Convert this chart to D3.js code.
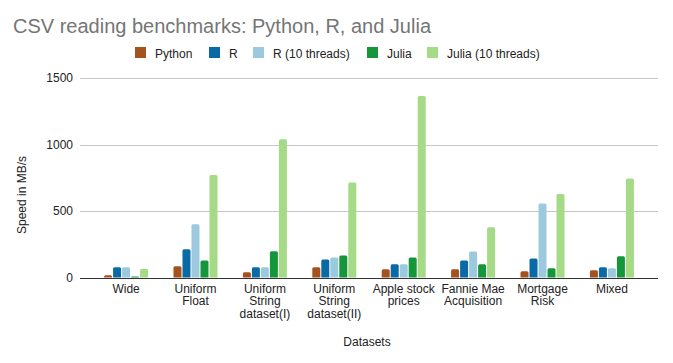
<!DOCTYPE html>
<html>
<head>
<meta charset="utf-8">
<script src="https://cdn.jsdelivr.net/npm/d3@7"></script>
<style>
  body { margin: 0; background: #fff; }
  svg { font-family: Arial, "Liberation Sans", sans-serif; }
</style>
</head>
<body>
<svg id="chart" width="673" height="363"></svg>
<script>
const categories = [
  ['Wide'],
  ['Uniform', 'Float'],
  ['Uniform', 'String', 'dataset(I)'],
  ['Uniform', 'String', 'dataset(II)'],
  ['Apple stock', 'prices'],
  ['Fannie Mae', 'Acquisition'],
  ['Mortgage', 'Risk'],
  ['Mixed']
];
const seriesNames = ['Python', 'R', 'R (10 threads)', 'Julia', 'Julia (10 threads)'];
const seriesColors = ['#a4531f', '#0a6aa6', '#9dc9df', '#15963a', '#a5da86'];
const python = [17, 85, 40, 78, 62, 62, 47, 55];
const rSingle = [78, 213, 78, 135, 100, 128, 143, 78];
const rThreads = [78, 400, 78, 150, 100, 195, 556, 70];
const julia = [8, 128, 198, 165, 150, 100, 70, 160];
const juliaThreads = [63, 770, 1040, 715, 1365, 378, 627, 745];
const yTicks = [0, 500, 1000, 1500];

const series = [python, rSingle, rThreads, julia, juliaThreads];
const svg = d3.select('#chart');
const m = { left: 80, right: 15, top: 78, bottom: 86 };
const W = 673, H = 363;

const x = d3.scaleBand().domain(d3.range(categories.length)).range([m.left, W - m.right]).paddingInner(0.366).paddingOuter(0.347);
const xs = d3.scaleBand().domain(d3.range(series.length)).range([0, x.bandwidth()]).paddingInner(0.11);
const y = d3.scaleLinear().domain([0, 1500]).range([H - m.bottom + 0.5, m.top]);

// title
svg.append('text').attr('x', 13).attr('y', 33).attr('font-size', 20).attr('fill', '#757575')
  .text('CSV reading benchmarks: Python, R, and Julia');

// legend
const legendX = [135, 209, 253, 367, 427];
seriesNames.forEach((name, i) => {
  const g = svg.append('g').attr('transform', `translate(${legendX[i]},47)`);
  g.append('rect').attr('width', 11).attr('height', 11).attr('fill', seriesColors[i]);
  g.append('text').attr('x', 20).attr('y', 10.5).attr('font-size', 12).attr('fill', '#222').text(name);
});

// grid
svg.append('g').selectAll('line').data(yTicks.filter(t => t > 0)).join('line')
  .attr('x1', m.left).attr('x2', W - m.right)
  .attr('y1', d => Math.round(y(d)) + 0.5).attr('y2', d => Math.round(y(d)) + 0.5)
  .attr('stroke', '#c6c6c6');

// y axis labels
const yAxis = d3.axisLeft(y).tickValues(yTicks).tickFormat(d3.format('d')).tickSize(0).tickPadding(7);
const ya = svg.append('g').attr('transform', `translate(${m.left},0)`).call(yAxis);
ya.select('.domain').remove();
ya.selectAll('text').attr('font-size', 12).attr('fill', '#222').attr('font-family', 'Arial, "Liberation Sans", sans-serif');

// bars
function barPath(x0, w, yTop, yBase) {
  const r = Math.min(1.5, (yBase - yTop));
  return `M${x0},${yBase}V${yTop + r}Q${x0},${yTop} ${x0 + r},${yTop}H${x0 + w - r}Q${x0 + w},${yTop} ${x0 + w},${yTop + r}V${yBase}Z`;
}
series.forEach((vals, si) => {
  svg.append('g').selectAll('path').data(vals).join('path')
    .attr('fill', seriesColors[si])
    .attr('d', (v, ci) => barPath(x(ci) + xs(si), xs.bandwidth(), y(v), y(0)));
});

// baseline
svg.append('line').attr('x1', m.left).attr('x2', W - m.right)
  .attr('y1', Math.round(y(0)) + 0.5).attr('y2', Math.round(y(0)) + 0.5)
  .attr('stroke', '#333').attr('stroke-width', 1.2);

// x labels
const xl = svg.append('g');
categories.forEach((lines, ci) => {
  const cx = x(ci) + x.bandwidth() / 2;
  const t = xl.append('text').attr('text-anchor', 'middle').attr('font-size', 12).attr('fill', '#222')
    .attr('x', cx).attr('y', 293);
  lines.forEach((ln, li) => t.append('tspan').attr('x', cx).attr('dy', li === 0 ? 0 : 12.4).text(ln));
});

// axis titles
svg.append('text').attr('x', (m.left + W - m.right) / 2 - 2).attr('y', 346).attr('text-anchor', 'middle')
  .attr('font-size', 12).attr('fill', '#222').text('Datasets');
svg.append('text').attr('transform', 'translate(26,195) rotate(-90)').attr('text-anchor', 'middle')
  .attr('font-size', 12).attr('fill', '#222').text('Speed in MB/s');
</script>
</body>
</html>
